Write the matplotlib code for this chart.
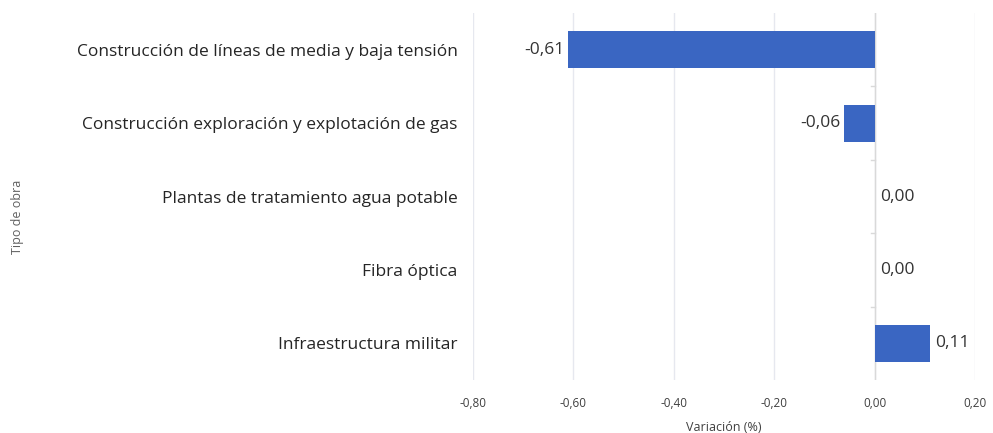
import matplotlib.pyplot as plt

# data
categorias = ['Construcción de líneas de media y baja tensión',
              'Construcción exploración y explotación de gas',
              'Plantas de tratamiento agua potable',
              'Fibra óptica',
              'Infraestructura militar']
variacion = [-0.61, -0.06, 0.00, 0.00, 0.11]
xticks = [-0.8, -0.6, -0.4, -0.2, 0.0, 0.2]

plt.rcParams['font.family'] = ['Open Sans', 'DejaVu Sans']

fig = plt.figure(figsize=(9.93, 4.33), dpi=100)
ax = fig.add_axes([0.476, 0.122, 0.506, 0.848])

pos = list(range(len(categorias)))
ax.barh(pos, variacion, height=0.5, color='#3A66C2', zorder=3)

for y, v in zip(pos, variacion):
    txt = f'{v:.2f}'.replace('.', ',')
    if v < 0:
        ax.text(v - 0.008, y, txt, ha='right', va='center', fontsize=12.5, color='#333333')
    else:
        ax.text(v + 0.01, y, txt, ha='left', va='center', fontsize=12.5, color='#333333')

ax.set_xlim(-0.8, 0.2)
ax.set_ylim(len(categorias) - 0.5, -0.5)
ax.set_xticks(xticks)
ax.set_xticklabels([f'{t:.2f}'.replace('.', ',') for t in xticks], fontsize=8.5, color='#404040')
ax.set_yticks(pos)
ax.set_yticklabels(categorias, fontsize=12.5, color='#252525')
ax.tick_params(axis='y', length=0, pad=11)
ax.tick_params(axis='x', length=0, pad=12)

ax.grid(axis='x', color='#E6E8EF', linewidth=1, zorder=0)
for s in ax.spines.values():
    s.set_visible(False)
ax.axvline(0, color='#D9D9D9', linewidth=1, zorder=2)
for b in [0.5, 1.5, 2.5, 3.5]:
    ax.plot([-0.008, 0], [b, b], color='#D9D9D9', linewidth=1, zorder=2)

ax.set_xlabel('Variación (%)', fontsize=9, color='#404040', labelpad=8)
fig.text(0.018, 0.5, 'Tipo de obra', rotation=90, fontsize=9, color='#606060', ha='center', va='center')

fig.savefig('out.png', dpi=100)
